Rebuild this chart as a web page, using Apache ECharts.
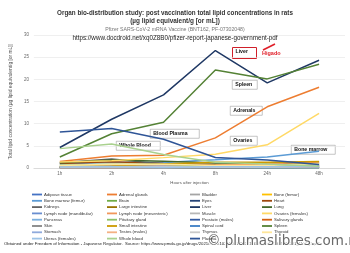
<!DOCTYPE html>
<html><head><meta charset="utf-8">
<script src="https://cdn.jsdelivr.net/npm/echarts@6/dist/echarts.min.js"></script>
<style>html,body{margin:0;padding:0;background:#fff}#c{width:350px;height:253px}</style>
</head><body><div id="c"></div>
<script>
const categories = ['1h', '2h', '4h', '8h', '24h', '48h'];
const yTicks = [0, 5, 10, 15, 20, 25, 30];
const seriesNames = ['Adipose tissue','Adrenal glands','Bladder','Bone (femur)','Bone marrow (femur)','Brain','Eyes','Heart','Kidneys','Large intestine','Liver','Lung','Lymph node (mandibular)','Lymph node (mesenteric)','Muscle','Ovaries (females)','Pancreas','Pituitary gland','Prostate (males)','Salivary glands','Skin','Small intestine','Spinal cord','Spleen','Stomach','Testes (males)','Thymus','Thyroid','Uterus (females)','Whole blood','Plasma'];
const adipose = [0.100, 0.126, 0.128, 0.093, 0.084, 0.181];
const adrenal = [1.48, 2.72, 2.89, 6.80, 13.8, 18.2];
const bladder = [0.130, 0.146, 0.167, 0.148, 0.247, 0.365];
const boneFemur = [0.195, 0.266, 0.276, 0.340, 0.342, 0.687];
const boneMarrow = [0.960, 1.24, 1.24, 1.84, 2.49, 3.77];
const brain = [0.100, 0.138, 0.115, 0.073, 0.069, 0.068];
const eyes = [0.035, 0.052, 0.067, 0.059, 0.091, 0.112];
const heart = [1.03, 1.40, 0.987, 0.790, 0.451, 0.546];
const kidneys = [1.16, 2.05, 0.924, 0.590, 0.426, 0.425];
const largeIntestine = [0.048, 0.093, 0.287, 0.649, 1.10, 1.34];
const liver = [4.63, 11.0, 16.5, 26.5, 19.2, 24.3];
const lung = [1.21, 1.83, 1.50, 1.15, 1.04, 1.09];
const lymphMand = [0.189, 0.290, 0.408, 0.534, 0.554, 0.727];
const lymphMes = [0.146, 0.530, 0.489, 0.689, 0.985, 1.37];
const muscle = [0.061, 0.084, 0.103, 0.096, 0.095, 0.192];
const ovaries = [1.34, 1.64, 2.34, 3.09, 5.24, 12.3];
const pancreas = [0.207, 0.414, 0.380, 0.294, 0.358, 0.599];
const pituitary = [0.645, 0.868, 0.854, 0.405, 0.478, 0.694];
const prostate = [0.091, 0.128, 0.157, 0.150, 0.183, 0.170];
const salivary = [0.193, 0.255, 0.220, 0.135, 0.170, 0.264];
const skin = [0.208, 0.159, 0.145, 0.119, 0.157, 0.253];
const smallIntestine = [0.221, 0.476, 0.879, 1.28, 1.30, 1.47];
const spinalCord = [0.097, 0.169, 0.250, 0.106, 0.085, 0.112];
const spleen = [2.47, 7.73, 10.3, 22.1, 20.1, 23.4];
const stomach = [0.065, 0.115, 0.144, 0.268, 0.152, 0.215];
const testes = [0.042, 0.079, 0.129, 0.146, 0.304, 0.320];
const thymus = [0.243, 0.340, 0.335, 0.196, 0.207, 0.331];
const thyroid = [0.536, 0.842, 0.851, 0.544, 0.578, 1.00];
const uterus = [0.203, 0.305, 0.140, 0.287, 0.289, 0.456];
const wholeBlood = [4.37, 5.40, 3.05, 1.31, 0.909, 0.420];
const plasma = [8.13, 8.90, 6.50, 2.36, 1.78, 0.805];
const allData = [adipose, adrenal, bladder, boneFemur, boneMarrow, brain, eyes, heart, kidneys, largeIntestine, liver, lung, lymphMand, lymphMes, muscle, ovaries, pancreas, pituitary, prostate, salivary, skin, smallIntestine, spinalCord, spleen, stomach, testes, thymus, thyroid, uterus, wholeBlood, plasma];
const colors = ['#4472C4','#ED7D31','#A5A5A5','#FFC000','#5B9BD5','#70AD47','#264478','#9E480E','#636363','#997300','#1F3864','#43682B','#698ED0','#F1975A','#B7B7B7','#FFD966','#7CAFDD','#8CC168','#335AA1','#D26012','#848484','#CC9A00','#3C7DC4','#548235','#8FAADC','#F4B183','#C9C9C9','#FFE699','#9DC3E6','#A9D18E','#2F5597'];

const chart = echarts.init(document.getElementById('c'), null, {renderer: 'canvas'});
const series = seriesNames.map((n, i) => ({
  name: n, type: 'line', data: allData[i], showSymbol: false, symbol: 'none',
  lineStyle: {width: 1.5, color: colors[i]},
  itemStyle: {color: colors[i]}, animation: false, z: 2
}));
const cols = [[], [], [], []];
seriesNames.forEach((n, i) => cols[i % 4].push(n));
const legendLefts = [32, 107, 190, 262];
const legends = cols.map((c, k) => ({
  data: c, orient: 'vertical', left: legendLefts[k], top: 191.5,
  icon: 'rect', itemWidth: 10, itemHeight: 1.8, itemGap: 0.3,
  textStyle: {fontSize: 4.3, lineHeight: 6, color: '#333', padding: [0, 0, 0, -3]},
  padding: 0, selectedMode: false
}));
function box(x, y, w, h, text, color) {
  return {type: 'group', left: x, top: y, children: [
    {type: 'rect', shape: {x: 0, y: 0, width: w, height: h}, style: {fill: '#fff', stroke: color || '#888', lineWidth: color ? 1 : 0.5}},
    {type: 'text', left: 3, top: 1.5, style: {text: text, fontSize: 5.2, fontWeight: 'bold', fill: '#111', fontFamily: 'Liberation Sans'}}
  ]};
}
chart.setOption({
  animation: false,
  color: colors,
  grid: {left: 26, right: 5, top: 35, bottom: 85},
  title: [
    {text: 'Organ bio-distribution study: post vaccination total lipid concentrations in rats', left: 'center', top: 5, textStyle: {fontSize: 6.3, fontWeight: 'bold', color: '#333', fontFamily: 'Liberation Sans'}},
    {text: '(µg lipid equivalent/g [or mL])', left: 'center', top: 13, textStyle: {fontSize: 6.4, fontWeight: 'bold', color: '#333', fontFamily: 'Liberation Sans'}},
    {text: 'Pfizer SARS-CoV-2 mRNA Vaccine (BNT162, PF-07302048)', left: 'center', top: 22, textStyle: {fontSize: 5.2, fontWeight: 'normal', color: '#777', fontFamily: 'Liberation Sans'}},
    {text: 'https://www.docdroid.net/xq0Z8B0/pfizer-report-japanese-government-pdf', left: 'center', top: 30, textStyle: {fontSize: 6.3, fontWeight: 'normal', color: '#222', fontFamily: 'Liberation Sans'}}
  ],
  legend: legends,
  xAxis: {
    type: 'category', data: categories, boundaryGap: true,
    name: 'Hours after injection', nameLocation: 'middle', nameGap: 7,
    nameTextStyle: {fontSize: 4.3, color: '#555', padding: [0, 0, 0, 0]},
    axisLine: {lineStyle: {color: '#ccc', width: 0.6}}, axisTick: {show: false},
    axisLabel: {fontSize: 4.5, color: '#666', margin: 3}
  },
  yAxis: {
    type: 'value', min: 0, max: 30, interval: 5,
    name: 'Total lipid concentration (µg lipid equivalent/g [or mL])', nameLocation: 'middle', nameGap: 16,
    nameTextStyle: {fontSize: 4.9, color: '#555'},
    axisLine: {show: false}, axisTick: {show: false},
    axisLabel: {fontSize: 4.5, color: '#666', margin: 5, formatter: v => yTicks.includes(v) ? String(v) : ''},
    splitLine: {lineStyle: {color: '#e4e4e4', width: 0.6}}
  },
  series: series,
  graphic: [
    box(232, 47, 24, 11, 'Liver', '#d0202a'),
    box(232, 80, 25, 9, 'Spleen'),
    box(230, 106, 32, 9, 'Adrenals'),
    box(230, 136, 27, 9, 'Ovaries'),
    box(291, 145, 44, 9, 'Bone marrow'),
    box(150, 129, 49, 9, 'Blood Plasma'),
    box(116, 141, 44, 9, 'Whole Blood'),
    {type: 'text', left: 262, top: 50, style: {text: 'Higado', fontSize: 5.5, fontWeight: 'bold', fill: '#e0202a', fontFamily: 'Liberation Sans'}},
    {type: 'line', shape: {x1: 263, y1: 50, x2: 275, y2: 44}, style: {stroke: '#e0202a', lineWidth: 1.6}},
    {type: 'text', left: 4, top: 242, style: {text: 'Obtained under Freedom of Information - Japanese Regulator.  Source: https://www.pmda.go.jp/drugs/2021/P20210212001/672212000_30300AMX00231_I100_1.pdf', fontSize: 4.3, fill: '#222', fontFamily: 'Liberation Sans'}},
    {type: 'text', left: 206, top: 233, style: {text: '© plumaslibres.com.mx', fontSize: 13.5, fill: '#6a6a6a', fontFamily: 'DejaVu Sans', stroke: '#fff', lineWidth: 2}}
  ]
});
</script></body></html>
